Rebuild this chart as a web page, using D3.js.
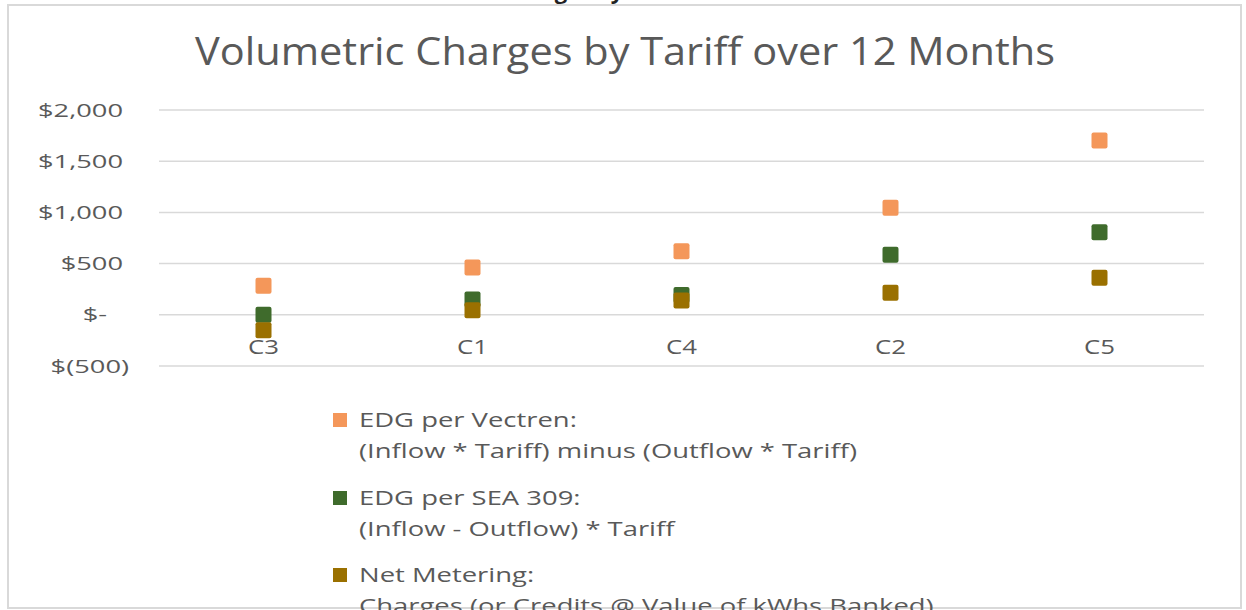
<!DOCTYPE html>
<html>
<head>
<meta charset="utf-8">
<script src="https://cdn.jsdelivr.net/npm/d3@7"></script>
<style>
  html, body { margin: 0; padding: 0; background: #fff; }
  svg { display: block; }
  text { font-family: "Open Sans", "Noto Sans", sans-serif; }
</style>
</head>
<body>
<svg id="chart" width="1246" height="610"></svg>
<script>
// ---- data ----
const categories = ["C3", "C1", "C4", "C2", "C5"];
const vectren = [284, 462, 620, 1045, 1702];
const sea309 = [0, 150, 193, 587, 807];
const netMetering = [-150, 45, 140, 215, 361];
const yTicks = [-500, 0, 500, 1000, 1500, 2000];
const yTickLabels = ["$(500)", "$-", "$500", "$1,000", "$1,500", "$2,000"];
const seriesNames = ["EDG per Vectren:", "EDG per SEA 309:", "Net Metering:"];
const seriesSubtitles = [
  "(Inflow * Tariff) minus (Outflow * Tariff)",
  "(Inflow - Outflow) * Tariff",
  "Charges (or Credits @ Value of kWhs Banked)"
];
const title = "Volumetric Charges by Tariff over 12 Months";

// ---- styles ----
const colors = ["#F4975A", "#3F6B2C", "#9A7000"];
const textColor = "#595959";
const gridColor = "#D9D9D9";

const svg = d3.select("#chart");

// horizontally stretch a group of texts so that a sample text reaches a target width
function stretch(sel, sampleNode, targetWidth) {
  const k = targetWidth / sampleNode.getComputedTextLength();
  sel.each(function () {
    const w = this.getComputedTextLength();
    d3.select(this).attr("textLength", w * k).attr("lengthAdjust", "spacingAndGlyphs");
  });
}

// cropped caption at very top (only bottom edge visible)
svg.append("text")
  .attr("x", 620).attr("y", -1)
  .attr("text-anchor", "middle")
  .attr("font-size", 22).attr("font-weight", "bold")
  .attr("fill", "#222")
  .text(title);

// frame
svg.append("rect")
  .attr("x", 8).attr("y", 5)
  .attr("width", 1233).attr("height", 603)
  .attr("fill", "#fff")
  .attr("stroke", gridColor).attr("stroke-width", 2);

// title
const titleText = svg.append("text")
  .attr("x", 625).attr("y", 65)
  .attr("text-anchor", "middle")
  .attr("font-size", 38)
  .attr("fill", textColor)
  .text(title);
stretch(titleText, titleText.node(), 860);

// scales
const x = d3.scaleBand().domain(categories).range([159, 1204]);
const y = d3.scaleLinear().domain([-500, 2000]).range([366, 110]);

// gridlines
const grid = svg.append("g").attr("class", "grid");
grid.selectAll("line").data(yTicks).join("line")
  .attr("x1", 159).attr("x2", 1204)
  .attr("y1", d => y(d)).attr("y2", d => y(d))
  .attr("stroke", gridColor).attr("stroke-width", 1.5);

// y axis labels
const yAxis = d3.axisLeft(y).tickValues(yTicks)
  .tickFormat((d, i) => yTickLabels[i]).tickSize(0).tickPadding(0);
const gy = svg.append("g").attr("transform", "translate(123,0)").call(yAxis);
gy.select(".domain").remove();
const yText = gy.selectAll("text")
  .attr("font-size", 19)
  .attr("fill", textColor)
  .attr("font-family", "'Open Sans', 'Noto Sans', sans-serif")
  .attr("dx", d => d < 0 ? 6 : (d === 0 ? -16 : 0));
stretch(yText, yText.filter(d => d === 2000).node(), 85);

// x axis labels (category axis crossing at zero)
const xAxis = d3.axisBottom(x).tickSize(0).tickPadding(0);
const gx = svg.append("g").attr("transform", `translate(0,${y(0)})`).call(xAxis);
gx.select(".domain").remove();
const xText = gx.selectAll("text")
  .attr("font-size", 20)
  .attr("fill", textColor)
  .attr("font-family", "'Open Sans', 'Noto Sans', sans-serif")
  .attr("y", 25);
stretch(xText, xText.filter(d => d === "C3").node(), 31);

// markers
const size = 16;
const allSeries = [vectren, sea309, netMetering];
allSeries.forEach((vals, si) => {
  svg.append("g").selectAll("rect")
    .data(vals.map((v, i) => ({ c: categories[i], v })))
    .join("rect")
    .attr("x", d => x(d.c) + x.bandwidth() / 2 - size / 2)
    .attr("y", d => y(d.v) - size / 2)
    .attr("width", size).attr("height", size)
    .attr("rx", 2)
    .attr("fill", colors[si]);
});

// legend
const legend = svg.append("g");
const rowTop = [420, 498, 575];
seriesNames.forEach((name, i) => {
  const g = legend.append("g").attr("transform", `translate(0,${rowTop[i]})`);
  g.append("rect").attr("x", 333).attr("y", -7).attr("width", 14).attr("height", 14)
    .attr("fill", colors[i]);
  g.append("text").attr("class", "lg").attr("x", 359).attr("y", 7)
    .attr("font-size", 20).attr("fill", textColor).text(name);
  g.append("text").attr("class", "lg").attr("x", 359).attr("y", 38)
    .attr("font-size", 20).attr("fill", textColor).text(seriesSubtitles[i]);
});
const lgText = legend.selectAll("text.lg");
stretch(lgText, lgText.filter(function () { return this.textContent === seriesSubtitles[0]; }).node(), 498);
</script>
</body>
</html>
